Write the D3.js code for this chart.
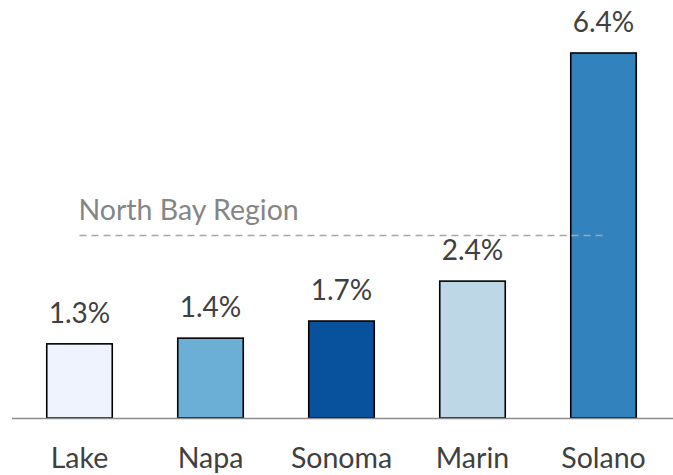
<!DOCTYPE html>
<html>
<head>
<meta charset="utf-8">
<script src="https://cdn.jsdelivr.net/npm/d3@7"></script>
<style>
  html, body { margin: 0; padding: 0; background: #fff; }
  svg { display: block; }
  text { font-family: Lato, "Open Sans", sans-serif; }
</style>
</head>
<body>
<svg id="chart" width="673" height="475"></svg>
<script>
const categories = ["Lake", "Napa", "Sonoma", "Marin", "Solano"];
const values = [1.3, 1.4, 1.7, 2.4, 6.4];
const colors = ["#EEF3FD", "#6BAED6", "#08519C", "#BDD7E7", "#3182BD"];
const regionValue = 3.2;
const regionLabel = "North Bay Region";

const svg = d3.select("#chart");
const baseline = 418;

const x = d3.scaleBand().domain(categories).range([14, 669]).paddingInner(0.5).paddingOuter(0.25);
const y = d3.scaleLinear().domain([0, 6.4]).range([baseline, 53]);

// bars
svg.selectAll("rect.bar").data(categories).join("rect")
  .attr("class", "bar")
  .attr("x", d => x(d))
  .attr("width", x.bandwidth())
  .attr("y", (d, i) => y(values[i]))
  .attr("height", (d, i) => baseline - y(values[i]))
  .attr("fill", (d, i) => colors[i])
  .attr("stroke", "#000")
  .attr("stroke-width", 1.6);

// baseline axis
svg.append("line")
  .attr("x1", 12).attr("x2", 673)
  .attr("y1", baseline + 0.5).attr("y2", baseline + 0.5)
  .attr("stroke", "#8c8c8c").attr("stroke-width", 1.6);

// category labels
svg.selectAll("text.cat").data(categories).join("text")
  .attr("class", "cat")
  .attr("x", d => x(d) + x.bandwidth() / 2)
  .attr("y", 468)
  .attr("text-anchor", "middle")
  .attr("font-size", 28.5)
  .attr("fill", "#404040")
  .text(d => d);

// value labels
svg.selectAll("text.val").data(categories).join("text")
  .attr("class", "val")
  .attr("x", d => x(d) + x.bandwidth() / 2)
  .attr("y", (d, i) => y(values[i]) - 21)
  .attr("text-anchor", "middle")
  .attr("font-size", 28)
  .attr("fill", "#404040")
  .text((d, i) => values[i].toFixed(1) + "%");

// region reference line
const first = categories[0], last = categories[categories.length - 1];
svg.append("line")
  .attr("x1", x(first) + x.bandwidth() / 2)
  .attr("x2", x(last) + x.bandwidth() / 2 + 4)
  .attr("y1", y(regionValue)).attr("y2", y(regionValue))
  .attr("stroke", "#a6a6a6").attr("stroke-width", 1.5)
  .attr("stroke-dasharray", "7,5");

svg.append("text")
  .attr("x", x(first) + x.bandwidth() / 2 - 1)
  .attr("y", y(regionValue) - 16)
  .attr("font-size", 28.5)
  .attr("fill", "#858585")
  .text(regionLabel);
</script>
</body>
</html>
